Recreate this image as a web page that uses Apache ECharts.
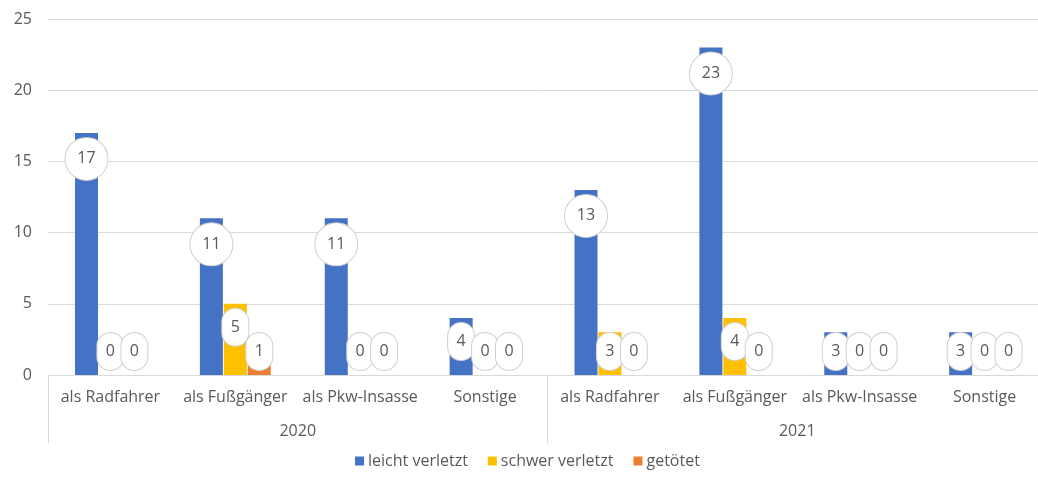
<!DOCTYPE html>
<html>
<head>
<meta charset="utf-8">
<script src="https://cdn.jsdelivr.net/npm/echarts@6/dist/echarts.min.js"></script>
<style>
html,body{margin:0;padding:0;background:#fff;}
#chart{width:1038px;height:477px;}
</style>
</head>
<body>
<div id="chart"></div>
<script>
const categories = ['als Radfahrer','als Fußgänger','als Pkw-Insasse','Sonstige','als Radfahrer','als Fußgänger','als Pkw-Insasse','Sonstige'];
const years = ['2020','2021'];
const seriesNames = ['leicht verletzt','schwer verletzt','getötet'];
const leichtVerletzt = [17,11,11,4,13,23,3,3];
const schwerVerletzt = [0,5,0,0,3,4,0,0];
const getoetet = [0,1,0,0,0,0,0,0];
const yTicks = [0,5,10,15,20,25];

const colors = ['#4472C4','#FFC000','#ED7D31'];
const FONT = '"Open Sans", "Noto Sans", sans-serif';
const TXT = '#595959';

const bubble = {
  color: TXT, fontSize: 16, fontFamily: FONT, align: 'center', verticalAlign: 'middle',
  backgroundColor: '#ffffff', borderColor: '#d0d0d0', borderWidth: 1
};
const rich = {
  a: Object.assign({}, bubble, {width: 26, height: 37, lineHeight: 37, borderRadius: 13}),
  b: Object.assign({}, bubble, {width: 42, height: 42, lineHeight: 42, borderRadius: 21})
};

function mkData(arr){
  return arr.map(v => ({
    value: v,
    label: v >= 4 ? {position: 'insideTop', distance: 5} : {position: 'insideBottom', distance: 5}
  }));
}

function mkSeries(name, arr, i){
  return {
    name: name, type: 'bar', xAxisIndex: 0, yAxisIndex: 0,
    barWidth: 23, barGap: '4%',
    itemStyle: {color: colors[i]},
    data: mkData(arr),
    label: {
      show: true,
      formatter: p => (p.value >= 10 ? '{b|' : '{a|') + p.value + '}',
      rich: rich
    },
    z: 2
  };
}

const chart = echarts.init(document.getElementById('chart'), null, {renderer: 'canvas'});
chart.setOption({
  animation: false,
  color: colors,
  textStyle: {fontFamily: FONT},
  grid: {left: 48, width: 999, top: 19, bottom: 102, containLabel: false, outerBoundsMode: 'none'},
  legend: {
    bottom: 3, left: 350,
    icon: 'rect', itemWidth: 9, itemHeight: 9, itemGap: 20,
    textStyle: {color: TXT, fontSize: 16, fontFamily: FONT, padding: [0,0,0,-1]},
    data: seriesNames
  },
  xAxis: [
    {
      type: 'category', data: categories, position: 'bottom',
      axisLine: {lineStyle: {color: '#d9d9d9'}},
      axisTick: {show: false},
      axisLabel: {color: TXT, fontSize: 16, fontFamily: FONT, margin: 14, interval: 0}
    },
    {
      type: 'category', data: years, position: 'bottom', gridIndex: 0,
      axisLine: {show: false},
      axisTick: {show: true, length: 68, lineStyle: {color: '#d9d9d9'}},
      axisLabel: {color: TXT, fontSize: 16, fontFamily: FONT, margin: 48}
    }
  ],
  yAxis: {
    type: 'value', min: yTicks[0], max: yTicks[yTicks.length-1], interval: 5,
    axisLine: {show: false}, axisTick: {show: false},
    axisLabel: {color: TXT, fontSize: 16, fontFamily: FONT, margin: 16},
    splitLine: {lineStyle: {color: '#d9d9d9'}}
  },
  series: [
    mkSeries(seriesNames[0], leichtVerletzt, 0),
    mkSeries(seriesNames[1], schwerVerletzt, 1),
    mkSeries(seriesNames[2], getoetet, 2)
  ]
});
</script>
</body>
</html>
